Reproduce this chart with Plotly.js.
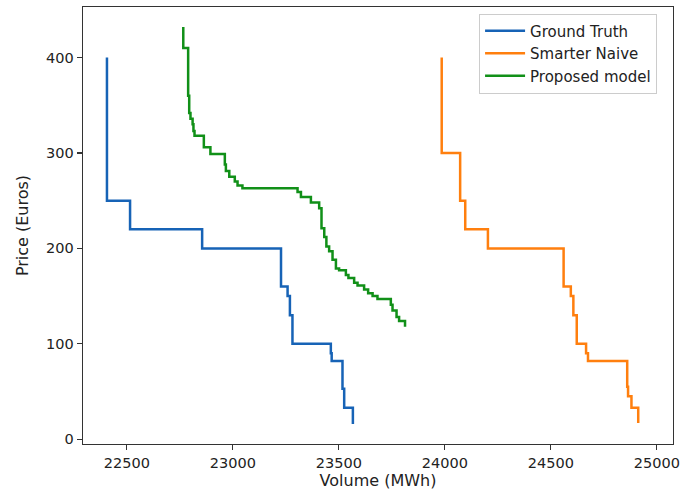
<!DOCTYPE html>
<html>
<head>
<meta charset="utf-8">
<script src="https://cdn.plot.ly/plotly-3.0.1.min.js"></script>
<style>
  html, body { margin: 0; padding: 0; background: #ffffff; }
  #chart { width: 692px; height: 494px; }
</style>
</head>
<body>
<div id="chart"></div>
<script>
// Bid curves: cumulative volume (MWh) against price (Euros), drawn as steps.
// Each point is (volume where the step ends, price level of that step).
const groundTruthVolume = [22406, 22515, 22855, 23227, 23258, 23269, 23281, 23462, 23466, 23517, 23525, 23566, 23566];
const groundTruthPrice  = [400, 250, 220, 200, 160, 150, 130, 100, 90, 82, 53, 33, 16];

const naiveVolume = [23985, 24072, 24096, 24203, 24560, 24594, 24606, 24622, 24666, 24675, 24860, 24864, 24880, 24912, 24912];
const naivePrice  = [400, 300, 250, 220, 200, 160, 150, 130, 100, 90, 82, 55, 45, 33, 17];

const proposedVolume = [22766, 22789, 22794, 22800, 22810, 22814, 22819, 22863, 22894, 22962, 22967, 22983, 23009, 23022, 23045,
                        23305, 23321, 23368, 23407, 23418, 23431, 23441, 23454, 23470, 23486, 23501, 23533, 23545, 23572, 23588,
                        23619, 23638, 23659, 23682, 23745, 23753, 23772, 23784, 23812, 23812];
const proposedPrice  = [432, 410, 360, 342, 336, 330, 323, 318, 306, 299, 288, 281, 275, 270, 266,
                        263, 259, 254, 248, 242, 221, 212, 202, 197, 188, 179, 177, 172, 169, 164,
                        161, 157, 153, 150, 147, 141, 135, 128, 124, 118];

const seriesNames = ['Ground Truth', 'Smarter Naive', 'Proposed model'];
const xTicks = [22500, 23000, 23500, 24000, 24500, 25000];
const yTicks = [0, 100, 200, 300, 400];

const font = 'DejaVu Sans, Liberation Sans, sans-serif';

function stepTrace(x, y, name, color) {
  return {
    type: 'scatter', mode: 'lines', x: x, y: y, name: name,
    line: { color: color, width: 2.5, shape: 'vh' },
    hoverinfo: 'skip'
  };
}

const data = [
  stepTrace(groundTruthVolume, groundTruthPrice, seriesNames[0], '#1763b6'),
  stepTrace(naiveVolume, naivePrice, seriesNames[1], '#ff7f0e'),
  stepTrace(proposedVolume, proposedPrice, seriesNames[2], '#119018')
];

const axisCommon = {
  showgrid: false, zeroline: false,
  showline: true, mirror: true, linecolor: '#333333', linewidth: 1.3,
  ticks: 'outside', ticklen: 5, tickwidth: 1.2, tickcolor: '#333333',
  tickfont: { family: font, size: 14.5, color: '#222222' }
};

const layout = {
  width: 692, height: 494,
  margin: { l: 83, r: 19, t: 7, b: 50 },
  paper_bgcolor: '#ffffff', plot_bgcolor: '#ffffff',
  font: { family: font, color: '#222222' },
  showlegend: true,
  legend: {
    x: 0.973, y: 0.985, xanchor: 'right', yanchor: 'top',
    bgcolor: 'rgba(255,255,255,0.8)', bordercolor: '#cccccc', borderwidth: 1,
    font: { family: font, size: 15, color: '#222222' },
    itemwidth: 40, tracegroupgap: 0
  },
  xaxis: Object.assign({}, axisCommon, {
    range: [22293, 25076],
    tickvals: xTicks, ticktext: xTicks.map(String),
    title: { text: 'Volume (MWh)', font: { family: font, size: 16, color: '#222222' }, standoff: 4 }
  }),
  yaxis: Object.assign({}, axisCommon, {
    range: [-5, 453],
    tickvals: yTicks, ticktext: yTicks.map(String),
    title: { text: 'Price (Euros)', font: { family: font, size: 16, color: '#222222' }, standoff: 13 }
  })
};

Plotly.newPlot('chart', data, layout, { staticPlot: true, displayModeBar: false });
</script>
</body>
</html>
